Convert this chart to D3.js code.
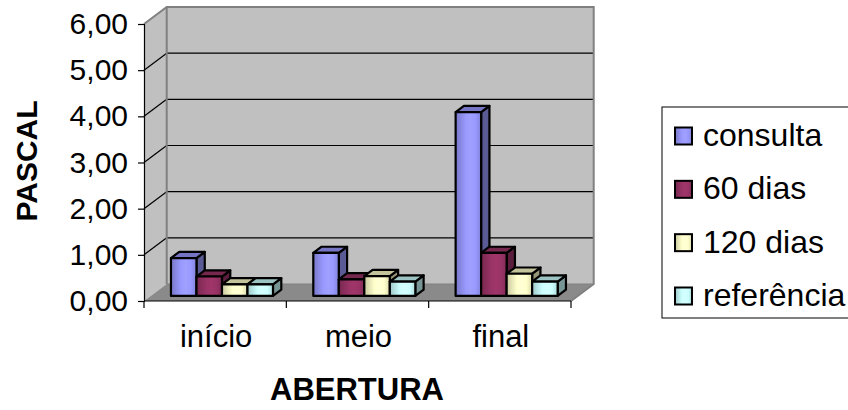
<!DOCTYPE html>
<html>
<head>
<meta charset="utf-8">
<script src="https://cdn.jsdelivr.net/npm/d3@7"></script>
<style>
  html, body { margin: 0; padding: 0; background: #fff; }
  svg { display: block; font-family: "Liberation Sans", Arial, sans-serif; }
</style>
</head>
<body>
<svg id="chart" width="848" height="410"></svg>
<script>
// Pressure readings (Pascal) by opening position and measurement time
const categories = ["início", "meio", "final"];
const seriesNames = ["consulta", "60 dias", "120 dias", "referência"];
const consulta   = [0.82, 0.93, 3.98];
const dias60     = [0.42, 0.36, 0.93];
const dias120    = [0.25, 0.43, 0.48];
const referencia = [0.25, 0.31, 0.31];
const seriesValues = [consulta, dias60, dias120, referencia];
const seriesColors = ["#9999ff", "#993366", "#ffffcc", "#ccffff"];
const yTicks = [0, 1, 2, 3, 4, 5, 6];

const svg = d3.select("#chart");
const defs = svg.append("defs");

// Front plane of the 3D box and its depth offset
const X0 = 144, X1 = 571;
const DX = 22.7, DY = 17;          // full depth of the floor
const F0 = 0.3, F1 = 0.666;        // bar depth span, as a fraction of the floor depth

const y = d3.scaleLinear().domain([0, 6]).range([301, 24]);
const x = d3.scaleBand().domain(categories).range([X0, X1]).paddingInner(0).paddingOuter(0);
const xs = d3.scaleBand().domain(seriesNames).range([0, x.bandwidth()]).paddingInner(0).paddingOuter(0.79);

const fmt = d3.formatLocale({ decimal: ",", thousands: ".", grouping: [3], currency: ["", ""] }).format(".2f");
const pts = a => a.map(p => p.join(",")).join(" ");

// Gradients for bar fronts and legend keys
seriesColors.forEach((c, i) => {
  const base = d3.color(c);
  const g = defs.append("linearGradient").attr("id", "grad" + i)
    .attr("x1", "0%").attr("x2", "100%").attr("y1", "0%").attr("y2", "0%");
  [[0, base.darker(0.7)], [0.18, base.darker(0.35)], [0.4, base], [0.58, base.brighter(0.12)],
   [0.78, base], [1, base.darker(0.45)]].forEach(([o, col]) =>
    g.append("stop").attr("offset", o).attr("stop-color", col.formatHex()));
});

// Walls and floor
const wallGrey = "#c0c0c0", edgeGrey = "#808080";
svg.append("polygon")
  .attr("points", pts([[X0 + DX, y(0) - DY], [X1 + DX, y(0) - DY], [X1 + DX, y(6) - DY], [X0 + DX, y(6) - DY]]))
  .attr("fill", wallGrey);
svg.append("polygon")
  .attr("points", pts([[X0, y(0)], [X0 + DX, y(0) - DY], [X0 + DX, y(6) - DY], [X0, y(6)]]))
  .attr("fill", wallGrey);
svg.append("polygon")
  .attr("points", pts([[X0, y(0)], [X1, y(0)], [X1 + DX, y(0) - DY], [X0 + DX, y(0) - DY]]))
  .attr("fill", "#8a8a8a");

// Gridlines on the back wall and the side wall
const grid = svg.append("g").attr("stroke", "#000").attr("stroke-width", 1.2);
yTicks.filter(v => v > 0 && v < 6).forEach(v => {
  grid.append("line").attr("x1", X0 + DX).attr("x2", X1 + DX)
    .attr("y1", y(v) - DY).attr("y2", y(v) - DY);
  grid.append("line").attr("x1", X0).attr("x2", X0 + DX)
    .attr("y1", y(v)).attr("y2", y(v) - DY);
});

// Wall edges
const edges = svg.append("g").attr("stroke", edgeGrey).attr("stroke-width", 2).attr("fill", "none");
edges.append("polyline").attr("points", pts([[X0, y(6)], [X0 + DX, y(6) - DY], [X1 + DX, y(6) - DY], [X1 + DX, y(0) - DY], [X1, y(0)]]));
edges.append("line").attr("x1", X0 + DX).attr("x2", X0 + DX).attr("y1", y(6) - DY).attr("y2", y(0) - DY);
edges.append("line").attr("x1", X0 + DX).attr("x2", X1 + DX).attr("y1", y(0) - DY).attr("y2", y(0) - DY).attr("stroke-width", 1);

// Bars
const dd = DX * (F1 - F0), ddy = DY * (F1 - F0);
const bars = svg.append("g").attr("stroke", "#000").attr("stroke-width", 2.2).attr("stroke-linejoin", "round");
categories.forEach((cat, ci) => {
  seriesNames.forEach((s, si) => {
    const v = seriesValues[si][ci];
    const base = d3.color(seriesColors[si]);
    const bx = x(cat) + xs(s) + DX * F0;
    const w = xs.bandwidth();
    const yb = y(0) - DY * F0, yt = y(v) - DY * F0;
    const g = bars.append("g");
    g.append("polygon")
      .attr("points", pts([[bx + w, yt], [bx + w, yb], [bx + w + dd, yb - ddy], [bx + w + dd, yt - ddy]]))
      .attr("fill", base.darker(1.5).formatHex());
    g.append("polygon")
      .attr("points", pts([[bx, yt], [bx + w, yt], [bx + w + dd, yt - ddy], [bx + dd, yt - ddy]]))
      .attr("fill", base.darker(0.75).formatHex());
    g.append("rect").attr("x", bx).attr("y", yt).attr("width", w).attr("height", yb - yt)
      .attr("fill", `url(#grad${si})`);
  });
});

// Value axis
const yAxis = svg.append("g").attr("transform", `translate(${X0},0)`)
  .call(d3.axisLeft(y).tickValues(yTicks).tickSize(6).tickPadding(10).tickFormat(fmt));
yAxis.select(".domain").attr("stroke", "#000").attr("stroke-width", 1.2);
yAxis.selectAll(".tick line").attr("stroke", "#000").attr("stroke-width", 1.2);
yAxis.selectAll(".tick text").attr("font-size", 30).attr("fill", "#000")
  .attr("font-family", "'Liberation Sans', Arial, sans-serif");

// Category axis
const xAxis = svg.append("g");
xAxis.append("line").attr("x1", X0).attr("x2", X1).attr("y1", y(0)).attr("y2", y(0))
  .attr("stroke", "#000").attr("stroke-width", 1.2);
[...categories.map(c => x(c)), X1].forEach(t => {
  xAxis.append("line").attr("x1", t).attr("x2", t).attr("y1", y(0)).attr("y2", y(0) + 7)
    .attr("stroke", "#000").attr("stroke-width", 1.2);
});
categories.forEach(c => {
  xAxis.append("text").attr("x", x(c) + x.bandwidth() / 2 + 1).attr("y", 347)
    .attr("text-anchor", "middle").attr("font-size", 31).text(c);
});

// Axis titles
svg.append("text").attr("x", 357).attr("y", 400).attr("text-anchor", "middle")
  .attr("font-size", 31).attr("font-weight", "bold").text("ABERTURA");
svg.append("text").attr("transform", "translate(37,161) rotate(-90)").attr("text-anchor", "middle")
  .attr("font-size", 30).attr("font-weight", "bold").text("PASCAL");

// Legend
const legend = svg.append("g");
legend.append("rect").attr("x", 662).attr("y", 107).attr("width", 200).attr("height", 211)
  .attr("fill", "#fff").attr("stroke", "#000").attr("stroke-width", 1);
const ly = d3.scalePoint().domain(seriesNames).range([136, 296]);
seriesNames.forEach((s, i) => {
  legend.append("rect").attr("x", 675).attr("y", ly(s) - 8.5).attr("width", 17).attr("height", 17)
    .attr("fill", `url(#grad${i})`).attr("stroke", "#000").attr("stroke-width", 2);
  legend.append("text").attr("x", 703).attr("y", ly(s) + 10).attr("font-size", 32).text(s);
});
</script>
</body>
</html>
